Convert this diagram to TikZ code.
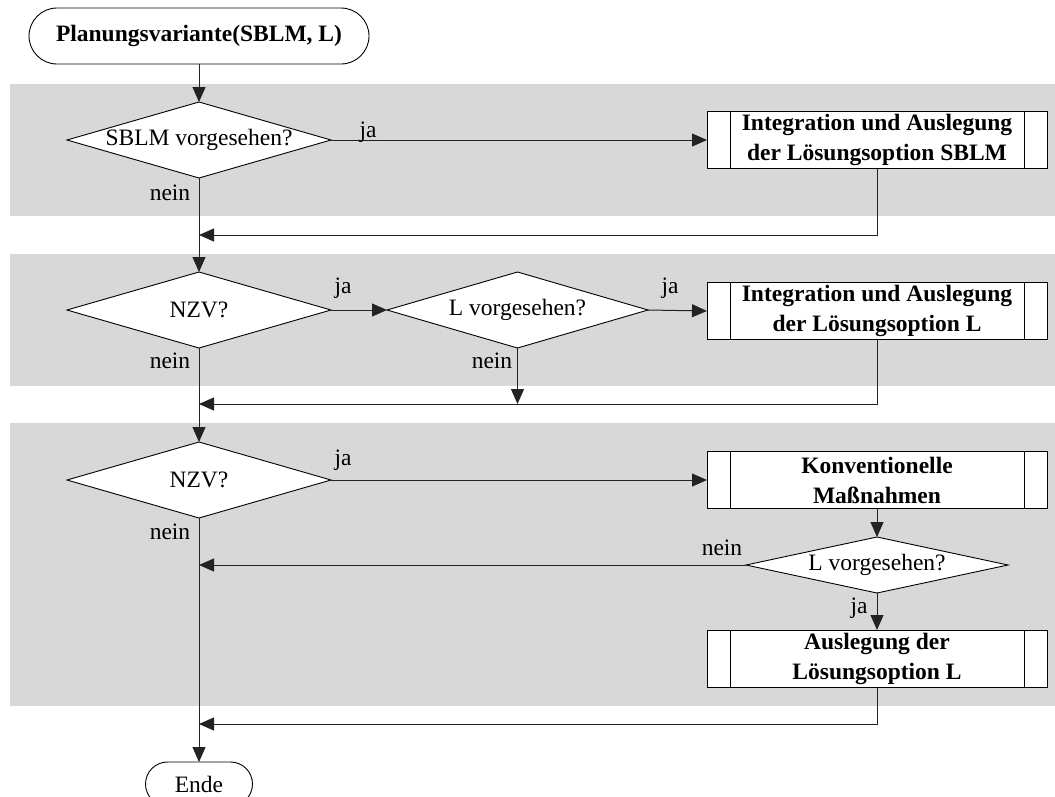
\documentclass[tikz,border=0pt]{standalone}
\usepackage{fontspec}
\setmainfont{Liberation Serif}
\usetikzlibrary{arrows.meta,shapes.geometric}
\definecolor{bandgray}{RGB}{216,216,216}
\definecolor{linegray}{RGB}{35,35,35}
\begin{document}
\begin{tikzpicture}[x=1pt,y=-1pt,
  font=\fontsize{23.5}{29}\selectfont,
  conn/.style={draw=linegray,line width=1pt},
  arr/.style={conn,-{Triangle[length=15pt,width=13pt]}},
  terminal/.style={draw=black,line width=0.9pt,fill=white,inner sep=0pt,outer sep=0pt},
  decision/.style={diamond,draw=black,fill=white,line width=0.9pt,inner sep=0pt,outer sep=0pt,
    minimum width=264pt,minimum height=76pt,aspect=3.47},
  subproc/.style={rectangle,draw=black,fill=white,line width=0.9pt,inner sep=0pt,outer sep=0pt,
    minimum width=340pt,minimum height=57pt,align=center,
    font=\fontsize{23.5}{30}\selectfont\bfseries,
    path picture={\draw[line width=0.9pt]
      ([xshift=23pt]path picture bounding box.north west) -- ([xshift=23pt]path picture bounding box.south west)
      ([xshift=-23pt]path picture bounding box.north east) -- ([xshift=-23pt]path picture bounding box.south east);}},
  lbl/.style={anchor=base,inner sep=0pt}
]
\clip (0,0) rectangle (1055,796);

% shaded phases
\fill[bandgray] (10,84) rectangle (1055,216);
\fill[bandgray] (10,254) rectangle (1055,386);
\fill[bandgray] (10,423) rectangle (1055,706);

% nodes
\node[terminal,minimum width=340pt,minimum height=56pt,rounded corners=28pt,
  font=\fontsize{23.5}{29}\selectfont\bfseries] (start) at (199,36) {Planungsvariante(SBLM, L)};

\node[decision] (d1) at (199,140) {SBLM vorgesehen?};
\node[subproc] (b1) at (877,140) {Integration und Auslegung\\der Lösungsoption SBLM};

\node[decision] (d2) at (199,310) {NZV?};
\node[decision,minimum width=261pt] (d3) at (517.5,310) {L vorgesehen?};
\node[subproc] (b2) at (877,311) {Integration und Auslegung\\der Lösungsoption L};

\node[decision] (d4) at (199,480) {NZV?};
\node[subproc] (b3) at (877,480) {Konventionelle\\Maßnahmen};
\node[decision,minimum width=262pt,minimum height=56pt,aspect=4.68] (d5) at (877,565) {L vorgesehen?};
\node[subproc] (b4) at (877,658.5) {Auslegung der\\Lösungsoption L};

\node[terminal,minimum width=107pt,minimum height=44pt,rounded corners=22pt] (end) at (199,784) {Ende};

% junctions on the main line
\coordinate (j1) at (199,235);
\coordinate (j2) at (199,404);
\coordinate (j2m) at (517.5,404);
\coordinate (j3) at (199,565);
\coordinate (j4) at (199,724);

% connectors
\draw[arr] (start.south) -- (d1.north);
\draw[arr] (d1.east) -- (b1.west);
\draw[arr] (b1.south) |- (j1);
\draw[arr] (d1.south) -- (d2.north);

\draw[arr] (d2.east) -- (d3.west);
\draw[arr] (d3.east) -- (b2.west);
\draw[arr] (d3.south) -- (j2m);
\draw[arr] (b2.south) |- (j2);
\draw[arr] (d2.south) -- (d4.north);

\draw[arr] (d4.east) -- (b3.west);
\draw[arr] (b3.south) -- (d5.north);
\draw[arr] (d5.west) -- (j3);
\draw[arr] (d5.south) -- (b4.north);
\draw[arr] (b4.south) |- (j4);
\draw[arr] (d4.south) -- (end.north);

% branch labels
\node[lbl] (l1j) at (368,137) {ja};
\node[lbl] (l1n) at (170,200) {nein};
\node[lbl] (l2j) at (343,293) {ja};
\node[lbl] (l2n) at (170,368) {nein};
\node[lbl] (l3j) at (670,293) {ja};
\node[lbl] (l3n) at (492,368) {nein};
\node[lbl] (l4j) at (343,465) {ja};
\node[lbl] (l4n) at (170,539) {nein};
\node[lbl] (l5n) at (722,555) {nein};
\node[lbl] (l5j) at (859,613) {ja};
\end{tikzpicture}
\end{document}
